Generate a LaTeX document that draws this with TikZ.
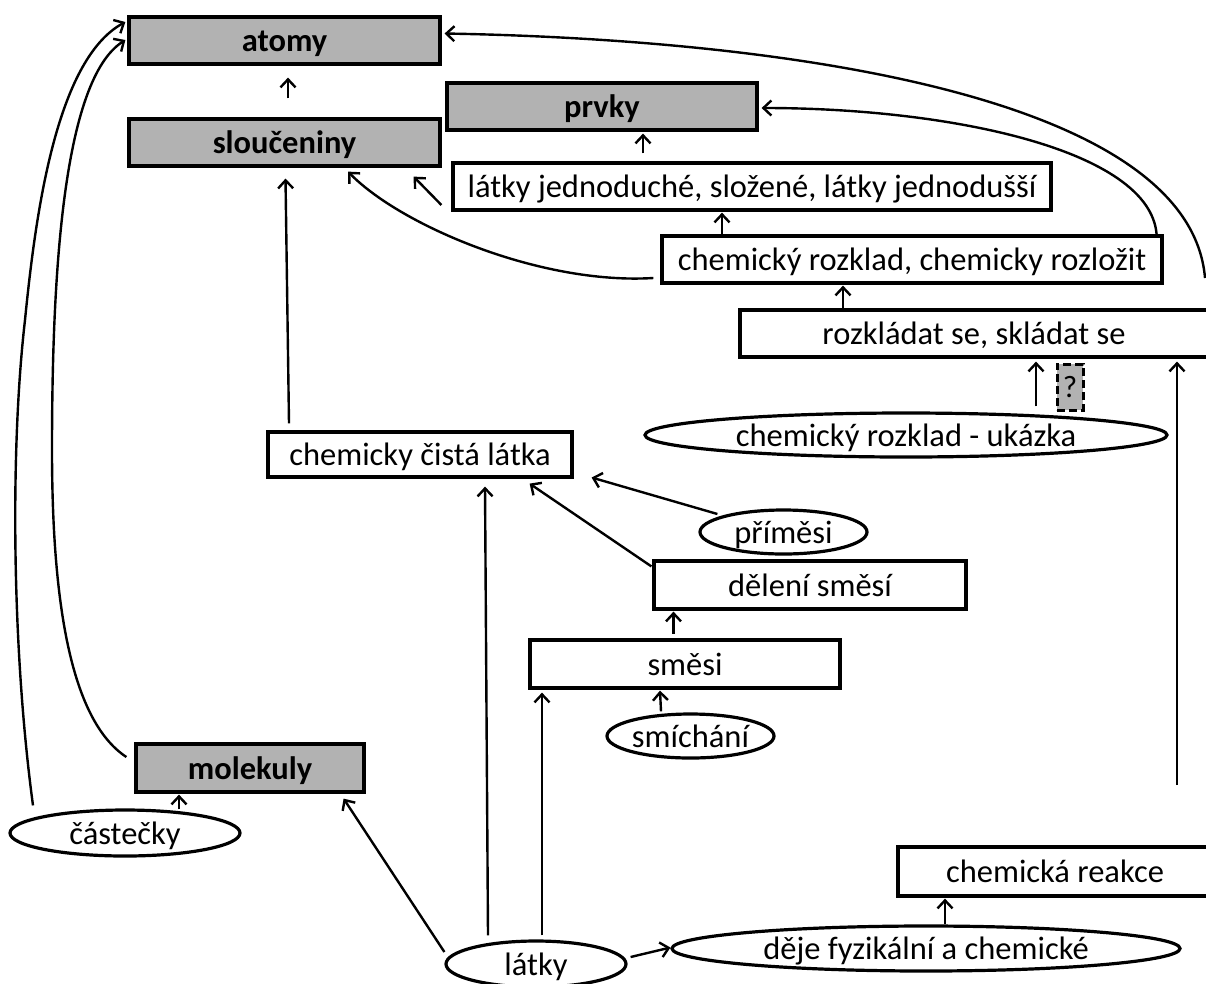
\documentclass[tikz,border=0pt]{standalone}
\usepackage{fontspec}
\setmainfont{Carlito}
\usetikzlibrary{shapes.geometric,arrows.meta,calc}
\definecolor{boxgray}{RGB}{178,178,178}
\begin{document}
\begin{tikzpicture}[x=1pt,y=-1pt,
  font=\fontsize{32.5}{36}\selectfont,
  box/.style={draw, line width=3.2pt, rectangle, inner sep=0pt, text height=25pt, text depth=3pt},
  gbox/.style={box, fill=boxgray, font=\fontsize{32.5}{36}\selectfont\bfseries},
  oval/.style={draw, ellipse, line width=3.2pt, inner sep=0pt, text height=25pt, text depth=3pt},
  qbox/.style={draw, line width=3pt, fill=boxgray, dash pattern=on 8pt off 4pt, inner sep=0pt, font=\fontsize{31}{34}\selectfont},
  arr/.style={line width=2.4pt, -{Straight Barb[length=8pt,width=15pt,line width=2.4pt]}}
]
\useasboundingbox (0,0) rectangle (1206,983);

% boxes
\node[gbox, minimum width=311pt, minimum height=47pt] (atomy) at (284.5,40.5) {atomy};
\node[gbox, minimum width=311pt, minimum height=47pt] (slouc) at (284.5,142.5) {sloučeniny};
\node[gbox, minimum width=310pt, minimum height=47pt] (prvky) at (602,106.5) {prvky};
\node[box, minimum width=598pt, minimum height=47pt] (latkyj) at (752,186.5) {látky jednoduché, složené, látky jednodušší};
\node[box, minimum width=500pt, minimum height=47pt] (chrozklad) at (912,259.5) {chemický rozklad, chemicky rozložit};
\node[box, minimum width=468pt, minimum height=47pt] (rozkladat) at (974,333.5) {rozkládat se, skládat se};
\node[qbox, minimum width=26pt, minimum height=46pt] (otaz) at (1070,387) {?};
\node[oval, minimum width=522pt, minimum height=44pt] (ukazka) at (906,435) {chemický rozklad - ukázka};
\node[box, minimum width=304pt, minimum height=45pt] (cista) at (420,454.5) {chemicky čistá látka};
\node[oval, minimum width=167pt, minimum height=44pt] (primesi) at (783.5,532) {příměsi};
\node[box, minimum width=312pt, minimum height=48pt] (deleni) at (810,585) {dělení směsí};
\node[box, minimum width=310pt, minimum height=48pt] (smesi) at (685,664) {směsi};
\node[oval, minimum width=167pt, minimum height=44pt] (smichani) at (690.5,736) {smíchání};
\node[gbox, minimum width=228pt, minimum height=48pt] (molekuly) at (250,768) {molekuly};
\node[oval, minimum width=230pt, minimum height=46pt] (castecky) at (125,833) {částečky};
\node[box, minimum width=314pt, minimum height=49pt] (chemreakce) at (1055,871.5) {chemická reakce};
\node[oval, minimum width=508pt, minimum height=45pt] (deje) at (926,948.5) {děje fyzikální a chemické};
\node[oval, minimum width=180pt, minimum height=46pt] (latky) at (536,964) {látky};

\coordinate (rtop) at (1205,278);
\coordinate (rbot) at (1177,785);

% straight arrows
\draw[arr] ($(slouc.north)+(3.5,-19)$) -- ($(atomy.south)+(3.5,12)$);
\draw[arr] ($(latkyj.north)+(-109,-8)$) -- ($(prvky.south)+(41,2)$);
\draw[arr] ($(chrozklad.north)+(-190,0)$) -- ($(latkyj.south)+(-30,1)$);
\draw[arr] ($(rozkladat.north)+(-131,0)$) -- ($(chrozklad.south)+(-69,1)$);
\draw[arr] ($(latkyj.west)+(-10,18.5)$) -- ($(slouc.south east)+(-28,9)$);
\draw[arr] (rbot) -- ($(rozkladat.south)+(203,3)$);
\draw[arr] ($(ukazka.north)+(130,-5)$) -- ($(rozkladat.south)+(62,3)$);
\draw[arr] ($(cista.north)+(-131,-7)$) -- ($(slouc.south)+(1,11)$);
\draw[arr] ($(latky.north)+(-48,-4)$) -- ($(cista.south)+(65,8)$);
\draw[arr] ($(latky.north)+(6,-4)$) -- ($(smesi.south)+(-143,3)$);
\draw[arr] ($(latky.west)+(0,-12)$) -- ($(molekuly.south east)+(-22,5)$);
\draw[arr] ($(latky.east)+(3,-7)$) -- ($(deje.west)+(0,-1)$);
\draw[arr] ($(deje.north)+(19,0)$) -- ($(chemreakce.south)+(-110,1)$);
\draw[arr] ($(smichani.north)+(-29.5,-1)$) -- ($(smesi.south)+(-25,1)$);
\draw[arr] ($(smesi.north)+(-11.5,-4.5)$) -- ($(deleni.south)+(-136.5,1)$);
\draw[arr] ($(deleni.north west)+(-1,7)$) -- ($(cista.south east)+(-44,5)$);
\draw[arr] ($(primesi.west)+(19,-18)$) -- ($(cista.east)+(18,23)$);
\draw[arr] ($(castecky.north)+(54,1)$) -- ($(molekuly.south)+(-71,1)$);

% curved arrows
\draw[arr] ($(chrozklad.west)+(-7,18.5)$) .. controls (540,285) and (400,225) .. ($(slouc.south)+(63.5,4)$);
\draw[arr] ($(chrozklad.north east)+(-7,0)$) .. controls (1150,150) and (950,108) .. ($(prvky.east)+(3,1.5)$);
\draw[arr] (rtop) .. controls (1190,100) and (800,40) .. ($(atomy.east)+(3,-7)$);
\draw[arr] ($(castecky.north)+(-92,-3)$) .. controls (12,650) and (10,450) .. (25,320) .. controls (35,220) and (55,60) .. ($(atomy.west)+(-2,-18.5)$);
\draw[arr] ($(molekuly.west)+(-8,-11)$) .. controls (70,720) and (52,600) .. (52,450) .. controls (52,280) and (62,80) .. ($(atomy.west)+(-2,-0.5)$);
\end{tikzpicture}
\end{document}
